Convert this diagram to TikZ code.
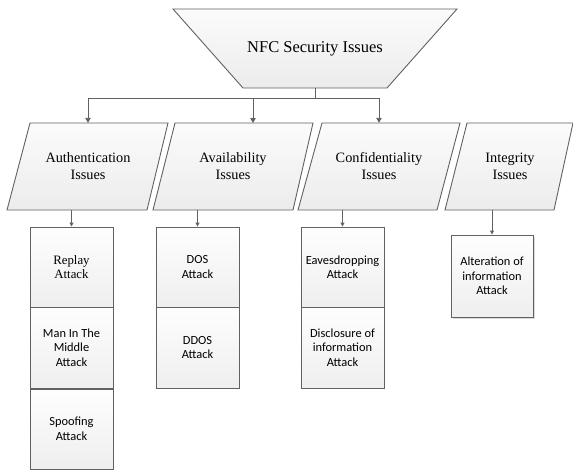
\documentclass[tikz,border=0pt]{standalone}
\usepackage{fontspec}
\setmainfont{Liberation Serif}
\newfontfamily\calfont{Carlito}
\newfontfamily\serfont{Liberation Serif}
\usetikzlibrary{arrows.meta,shadows,calc}
\begin{document}
\begin{tikzpicture}[x=1pt,y=-1pt,
  edge/.style={draw=black!62,line width=0.9pt},
  shapefill/.style={edge,top color=gray!3,bottom color=gray!15},
  ptext/.style={inner sep=0pt,minimum width=100pt,minimum height=87pt,align=center,
    font=\fontsize{14.3}{17}\selectfont},
  box/.style={shapefill,top color=gray!1,bottom color=gray!13,inner sep=0pt,
    minimum width=83pt,minimum height=80pt,align=center,
    font=\calfont\fontsize{12.4}{14.5}\selectfont},
  serifbox/.style={box,font=\serfont\fontsize{12.8}{14}\selectfont},
  arr/.style={edge,-{Triangle[width=5.5pt,length=5pt]}},
  sarr/.style={edge,-{Triangle[width=4pt,length=4pt]}}]
\useasboundingbox (0,0) rectangle (573,471);

% top trapezoid
\path[shapefill] (173,9) -- (457,9) -- (387,88) -- (243,88) -- cycle;
\node[inner sep=0pt,minimum height=79pt,minimum width=140pt,
  font=\fontsize{16.5}{19}\selectfont] (nfc) at (315,48.5) {NFC Security Issues};

% parallelograms
\path[shapefill] (30,123) -- (168,123) -- (147,210) -- (7,210) -- cycle;
\node[ptext] (auth) at (88,166.5) {Authentication\\Issues};
\path[shapefill] (175,123) -- (313,123) -- (293,210) -- (153,210) -- cycle;
\node[ptext] (avail) at (233,166.5) {Availability\\Issues};
\path[shapefill] (322,123) -- (460,123) -- (437,210) -- (298,210) -- cycle;
\node[ptext] (conf) at (379,166.5) {Confidentiality\\Issues};
\path[shapefill] (467,123) -- (573,123) -- (554,210) -- (445,210) -- cycle;
\node[ptext,minimum width=80pt] (integ) at (510,166.5) {Integrity\\Issues};

% bus
\coordinate (bus) at ($(nfc.south)+(0,10)$);
\draw[edge] (nfc.south) -- (bus);
\coordinate (availtop) at (253,123);
\draw[arr] (bus) -| (auth.north);
\draw[arr] (bus) -| (availtop);
\draw[arr] (bus) -| (conf.north);

% attack boxes
\node[serifbox] (replay) at (71.5,267) {Replay\\Attack};
\node[box,minimum height=81pt] (mitm) at (71.5,347.5) {Man In The\\Middle\\Attack};
\node[box] (spoof) at (71.5,429) {Spoofing\\Attack};

\node[box] (dos) at (197.5,267) {DOS\\Attack};
\node[box,minimum height=81pt] (ddos) at (197.5,347.5) {DDOS\\Attack};

\node[box] (eaves) at (342.5,267) {Eavesdropping\\Attack};
\node[box,minimum height=81pt] (disc) at (342.5,347.5) {Disclosure of\\information\\Attack};

\node[box,minimum width=82pt,minimum height=82pt,
  drop shadow={shadow xshift=1.5pt,shadow yshift=-1.5pt,fill=gray!50,opacity=0.6}]
  (alter) at (492,276) {Alteration of\\information\\Attack};

% connectors from categories to attacks
\draw[sarr] (replay.north |- auth.south) -- (replay.north);
\draw[sarr] (dos.north |- avail.south) -- (dos.north);
\draw[sarr] (eaves.north |- conf.south) -- (eaves.north);
\draw[sarr] (alter.north |- integ.south) -- (alter.north);
\end{tikzpicture}
\end{document}
